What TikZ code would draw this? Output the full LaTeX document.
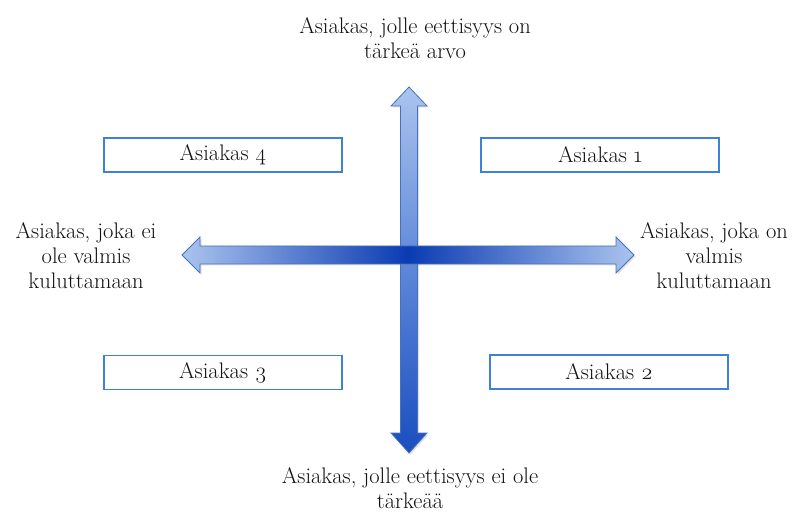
\documentclass[tikz,border=0pt]{standalone}
\usepackage{fontspec}
\setmainfont{Latin Modern Roman}[Numbers=OldStyle]
\usetikzlibrary{shadows}
\definecolor{boxline}{HTML}{3D82D6}
\definecolor{arrowline}{HTML}{4472BE}
\definecolor{lightblue}{HTML}{ABC4EE}
\definecolor{midblue}{HTML}{5C86D8}
\definecolor{darkblue}{HTML}{1A4EBF}
\definecolor{deepblue}{HTML}{0A3BB2}
\definecolor{txt}{HTML}{111111}
\tikzset{
  custbox/.style={draw=boxline, line width=1.8pt, fill=white, minimum width=238pt, minimum height=34pt, inner sep=0pt, font=\fontsize{22.5}{25}\selectfont, text=txt},
  lbl/.style={align=center, font=\fontsize{22.5}{25}\selectfont, text=txt, inner sep=0pt},
  arrowedge/.style={draw=arrowline, line width=0.8pt, line join=miter},
}
\begin{document}
\begin{tikzpicture}[x=1pt,y=-1pt]
\useasboundingbox (0,0) rectangle (801,513);
% vertical double arrow
\path[arrowedge, top color=lightblue, bottom color=darkblue, middle color=midblue,
      drop shadow={opacity=0.25, shadow xshift=1.5pt, shadow yshift=-1.5pt}]
  (409,87) -- (427,106) -- (417.5,106) -- (417.5,433) -- (427,433) -- (409,453)
  -- (391,433) -- (400.5,433) -- (400.5,106) -- (391,106) -- cycle;
% horizontal double arrow
\path[arrowedge, left color=lightblue, right color=lightblue, middle color=deepblue,
      drop shadow={opacity=0.25, shadow xshift=1.5pt, shadow yshift=-1.5pt}]
  (182,255) -- (200,237) -- (200,246) -- (616,246) -- (616,237) -- (634,255)
  -- (616,273) -- (616,264) -- (200,264) -- (200,273) -- cycle;
% customer boxes
\node[custbox] (c4) at (223,155) {Asiakas 4};
\node[custbox] (c1) at (600,155) {Asiakas 1};
\node[custbox] (c3) at (223,372.5) {Asiakas 3};
\node[custbox] (c2) at (609,372) {Asiakas 2};
% axis end labels
\node[lbl] (top) at (415,38) {Asiakas, jolle eettisyys on\\tärkeä arvo};
\node[lbl] (bottom) at (410,488) {Asiakas, jolle eettisyys ei ole\\tärkeää};
\node[lbl] (left) at (86,256) {Asiakas, joka ei\\ole valmis\\kuluttamaan};
\node[lbl] (right) at (714,256) {Asiakas, joka on\\valmis\\kuluttamaan};
\end{tikzpicture}
\end{document}
